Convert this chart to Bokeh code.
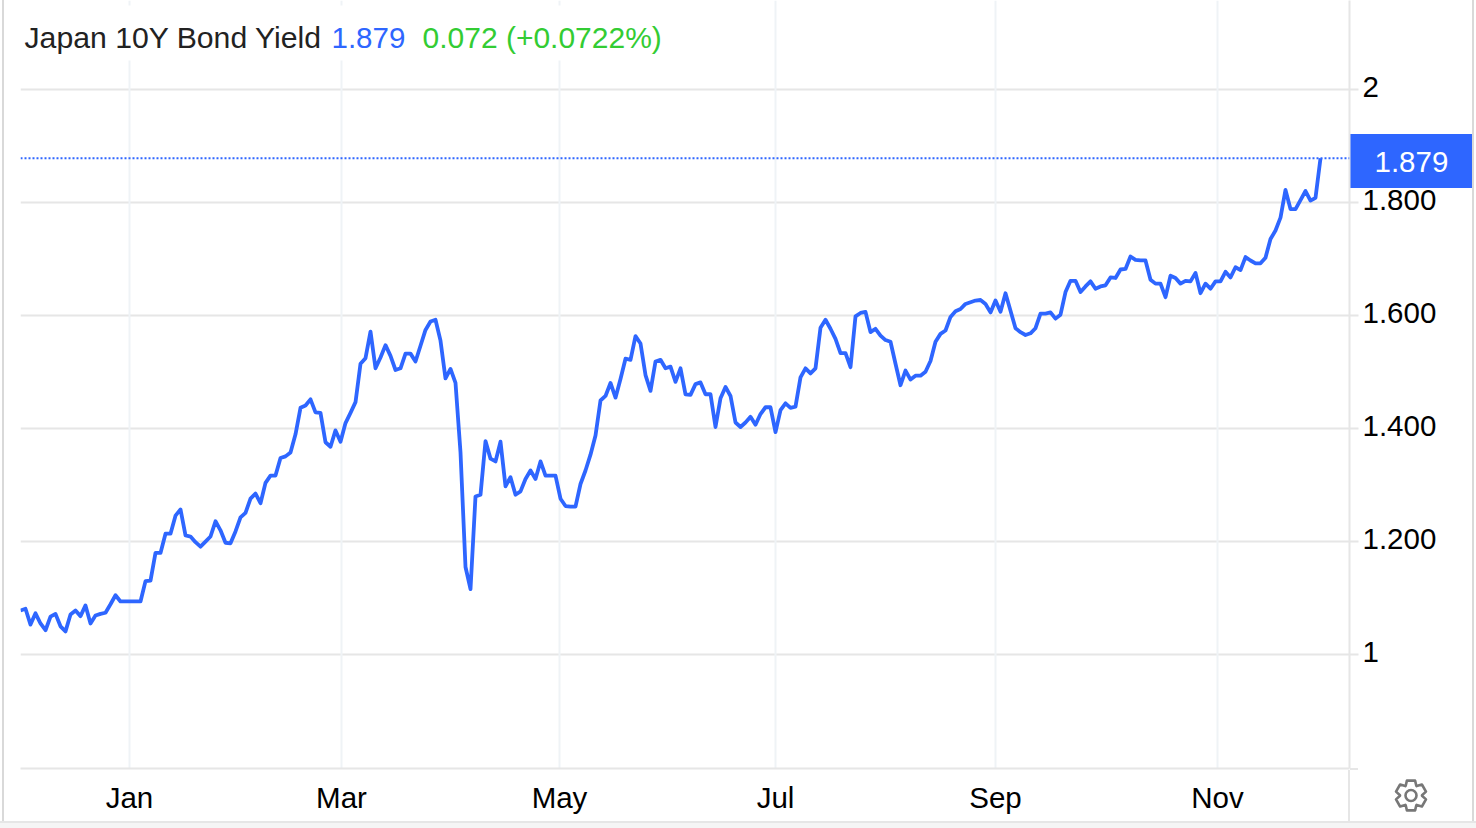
import math
from urllib.parse import quote
from bokeh.embed import file_html
from bokeh.resources import INLINE
from bokeh.plotting import figure
from bokeh.models import (ColumnDataSource, Range1d, LinearAxis, FixedTicker, Span, Label,
                          BoxAnnotation, Grid)

title_text = "Japan 10Y Bond Yield"
last_text = "1.879"
change_text = "0.072 (+0.0722%)"

yields = [
 1.078,1.081,1.053,1.073,1.055,1.043,1.067,1.072,1.050,1.041,
 1.071,1.078,1.068,1.087,1.055,1.069,1.072,1.074,1.089,1.105,
 1.094,1.094,1.094,1.094,1.094,1.130,1.131,1.180,1.180,1.214,
 1.214,1.246,1.257,1.211,1.209,1.199,1.191,1.200,1.209,1.236,
 1.220,1.198,1.197,1.218,1.243,1.251,1.276,1.285,1.268,1.304,
 1.317,1.317,1.348,1.351,1.358,1.390,1.437,1.441,1.452,1.429,
 1.428,1.376,1.368,1.397,1.377,1.410,1.428,1.447,1.515,1.525,
 1.572,1.507,1.526,1.548,1.529,1.504,1.507,1.533,1.533,1.519,
 1.547,1.575,1.590,1.593,1.556,1.489,1.506,1.481,1.358,1.155,
 1.116,1.280,1.283,1.378,1.347,1.342,1.377,1.298,1.314,1.283,
 1.289,1.311,1.326,1.311,1.342,1.317,1.317,1.317,1.276,1.263,
 1.262,1.262,1.302,1.326,1.354,1.388,1.450,1.458,1.481,1.455,
 1.488,1.524,1.522,1.564,1.551,1.495,1.467,1.519,1.522,1.507,
 1.510,1.483,1.507,1.461,1.460,1.479,1.482,1.461,1.461,1.403,
 1.454,1.474,1.458,1.411,1.403,1.411,1.421,1.407,1.426,1.438,
 1.438,1.394,1.433,1.445,1.437,1.439,1.491,1.507,1.498,1.507,
 1.579,1.593,1.577,1.559,1.534,1.534,1.509,1.599,1.605,1.607,
 1.571,1.577,1.565,1.557,1.554,1.515,1.477,1.503,1.487,1.494,
 1.494,1.501,1.520,1.554,1.568,1.574,1.598,1.608,1.612,1.621,
 1.624,1.627,1.628,1.621,1.606,1.627,1.607,1.640,1.609,1.578,
 1.571,1.566,1.569,1.578,1.604,1.604,1.606,1.595,1.602,1.642,
 1.662,1.662,1.642,1.652,1.661,1.648,1.652,1.654,1.668,1.667,
 1.682,1.683,1.705,1.699,1.698,1.698,1.664,1.657,1.657,1.633,
 1.671,1.667,1.657,1.662,1.661,1.676,1.640,1.657,1.648,1.661,
 1.661,1.678,1.668,1.686,1.681,1.704,1.698,1.693,1.693,1.703,
 1.736,1.751,1.774,1.823,1.789,1.789,1.805,1.821,1.804,1.809,
 1.879,
]
month_labels = ["Jan", "Mar", "May", "Jul", "Sep", "Nov"]
month_positions = [21.8, 64.2, 107.8, 151.0, 195.0, 239.4]
y_ticks = [1, 1.2, 1.4, 1.6, 1.8, 2]
y_tick_labels = ["1", "1.200", "1.400", "1.600", "1.800", "2"]

BLUE = "#2e66ff"
GREEN = "#33cc33"
GRID_H = "#e6e6e6"
GRID_V = "#eff3f6"
FONT = "Liberation Sans"
FS = "29.5px"
W, H = 1476, 828

# page furniture outside the plot frame, painted behind a transparent canvas
gear = []
cx, cy = 1411, 795.5
for k in range(6):
    a = -math.pi / 2 + 2 * math.pi * k / 6
    for da, r in [(-0.50, 11), (-0.27, 15.5), (0.27, 15.5), (0.50, 11)]:
        gear.append(f"{cx + r * math.cos(a + da):.1f},{cy + r * math.sin(a + da):.1f}")
svg = (
    f"<svg xmlns='http://www.w3.org/2000/svg' width='{W}' height='{H}'>"
    f"<rect x='2' y='0' width='2' height='821' fill='#d9d9d9'/>"
    f"<rect x='1472' y='0' width='2' height='821' fill='#d9d9d9'/>"
    f"<rect x='1348' y='770' width='2' height='51' fill='{GRID_H}'/>"
    f"<rect x='1350' y='768' width='8' height='2' fill='{GRID_H}'/>"
    f"<rect x='0' y='821' width='{W}' height='2' fill='{GRID_H}'/>"
    f"<rect x='0' y='823' width='{W}' height='5' fill='#f5f5f5'/>"
    f"<rect x='1350' y='134' width='122' height='54' fill='{BLUE}'/>"
    f"<polygon points='{' '.join(gear)}' fill='none' stroke='#777777' stroke-width='2.6' stroke-linejoin='round'/>"
    f"<circle cx='{cx}' cy='{cy}' r='5.5' fill='none' stroke='#777777' stroke-width='2.6'/>"
    f"</svg>"
)

source = ColumnDataSource(dict(i=list(range(len(yields))), y=yields))

p = figure(width=W, height=H, output_backend="svg", toolbar_location=None,
           x_range=Range1d(0, 265.8), y_range=Range1d(0.7981, 2.1585),
           x_axis_type=None, y_axis_type=None,
           min_border_left=20, min_border_right=127, min_border_top=0, min_border_bottom=60,
           outline_line_color=None, background_fill_color="white", border_fill_color=None)
p.styles = {"background-image": f'url("data:image/svg+xml,{quote(svg)}")',
            "background-repeat": "no-repeat"}

# axis line and tick marks
right = LinearAxis(ticker=FixedTicker(ticks=y_ticks),
                   major_label_overrides={t: "" for t in y_ticks})
right.major_label_standoff = 0
right.major_tick_in = 0
right.major_tick_out = 9
right.major_tick_line_color = GRID_H
right.major_tick_line_width = 2
right.minor_tick_line_color = None
right.axis_line_color = GRID_H
right.axis_line_width = 2
p.add_layout(right, "right")


def label_axis(ticks, labels, color, standoff):
    ax = LinearAxis(ticker=FixedTicker(ticks=ticks),
                    major_label_overrides=dict(zip(ticks, labels)))
    ax.major_label_text_font = FONT
    ax.major_label_text_font_size = FS
    ax.major_label_text_color = color
    ax.major_label_standoff = standoff
    ax.major_tick_in = 0
    ax.major_tick_out = 0
    ax.major_tick_line_color = None
    ax.minor_tick_line_color = None
    ax.axis_line_color = None
    p.add_layout(ax, "right")


# the tick labels sit a little above their gridlines in the reference
label_nudge = 0.0044
label_axis([round(t + label_nudge, 4) for t in y_ticks], y_tick_labels, "#000000", 4)
# the white last-value label, centred in the blue box
label_axis([round(yields[-1] - 0.0065, 4)], [last_text], "white", -65)

bottom = LinearAxis(ticker=FixedTicker(ticks=month_positions),
                    major_label_overrides=dict(zip(month_positions, month_labels)))
bottom.major_label_text_font = FONT
bottom.major_label_text_font_size = FS
bottom.major_label_text_color = "#000000"
bottom.major_label_standoff = 12
bottom.major_tick_in = 0
bottom.major_tick_out = 0
bottom.minor_tick_line_color = None
bottom.axis_line_color = GRID_H
bottom.axis_line_width = 2
p.add_layout(bottom, "below")

p.xgrid.grid_line_color = None
p.ygrid.grid_line_color = None
p.add_layout(Grid(dimension=1, ticker=right.ticker, grid_line_color=GRID_H, grid_line_width=2))
p.add_layout(Grid(dimension=0, ticker=bottom.ticker, grid_line_color=GRID_V, grid_line_width=2))

p.add_layout(Span(location=yields[-1], dimension="width", line_color=BLUE, line_width=2,
                  line_dash="2 2"))
p.line("i", "y", source=source, line_color=BLUE, line_width=3.8, line_join="round")

p.add_layout(BoxAnnotation(left=20, right=672, top=5, bottom=60,
                           left_units="canvas", right_units="canvas",
                           top_units="canvas", bottom_units="canvas",
                           fill_color="white", fill_alpha=1, line_color=None))


def label(x, y, text, color, size=FS):
    p.add_layout(Label(x=x, y=y, x_units="canvas", y_units="canvas", text=text,
                       text_color=color, text_font=FONT, text_font_size=size,
                       text_align="left", text_baseline="alphabetic"))


label(24, 37, title_text, "#222222", size="30.2px")
label(331, 37, last_text, BLUE)
label(422, 37, change_text, GREEN, size="30px")

open("out.html", "w").write(file_html(p, INLINE))
